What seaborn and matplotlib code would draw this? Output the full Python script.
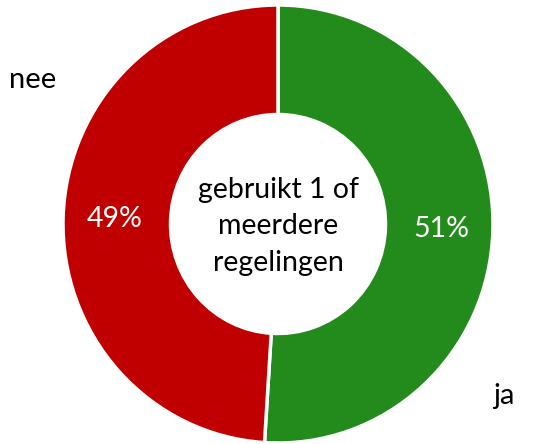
import seaborn as sns
import matplotlib.pyplot as plt

categories = ["ja", "nee"]
shares = [51, 49]
colors = ["#228B1B", "#C00000"]
center_text = "gebruikt 1 of\nmeerdere\nregelingen"

sns.set_theme(style="white")
plt.rcParams["font.family"] = ["Lato", "DejaVu Sans"]

fig = plt.figure(figsize=(5.33, 4.44), dpi=100)
# donut is drawn a bit taller than wide, as in the original
ax = fig.add_axes([63 / 533, 1 - 443 / 444, 430 / 533, 438 / 444])

wedges, texts, autotexts = ax.pie(
    shares,
    colors=colors,
    startangle=90,
    counterclock=False,
    radius=1.0,
    autopct="%d%%",
    pctdistance=0.76,
    wedgeprops=dict(width=0.5, edgecolor="white", linewidth=2.5),
    textprops=dict(color="white", fontsize=20.5),
)
ax.set_aspect("auto")
ax.set_xlim(-1, 1)
ax.set_ylim(-1, 1)

ax.text(0, -0.01, center_text, ha="center", va="center", fontsize=20.5,
        color="black", linespacing=1.5)

# category labels outside the ring
fig.text(9 / 533, 1 - 80 / 444, categories[1], ha="left", va="center",
         fontsize=21, color="black")
fig.text(493 / 533, 1 - 396 / 444, categories[0], ha="left", va="center",
         fontsize=21, color="black")

plt.savefig("out.png", dpi=100)
plt.close()
